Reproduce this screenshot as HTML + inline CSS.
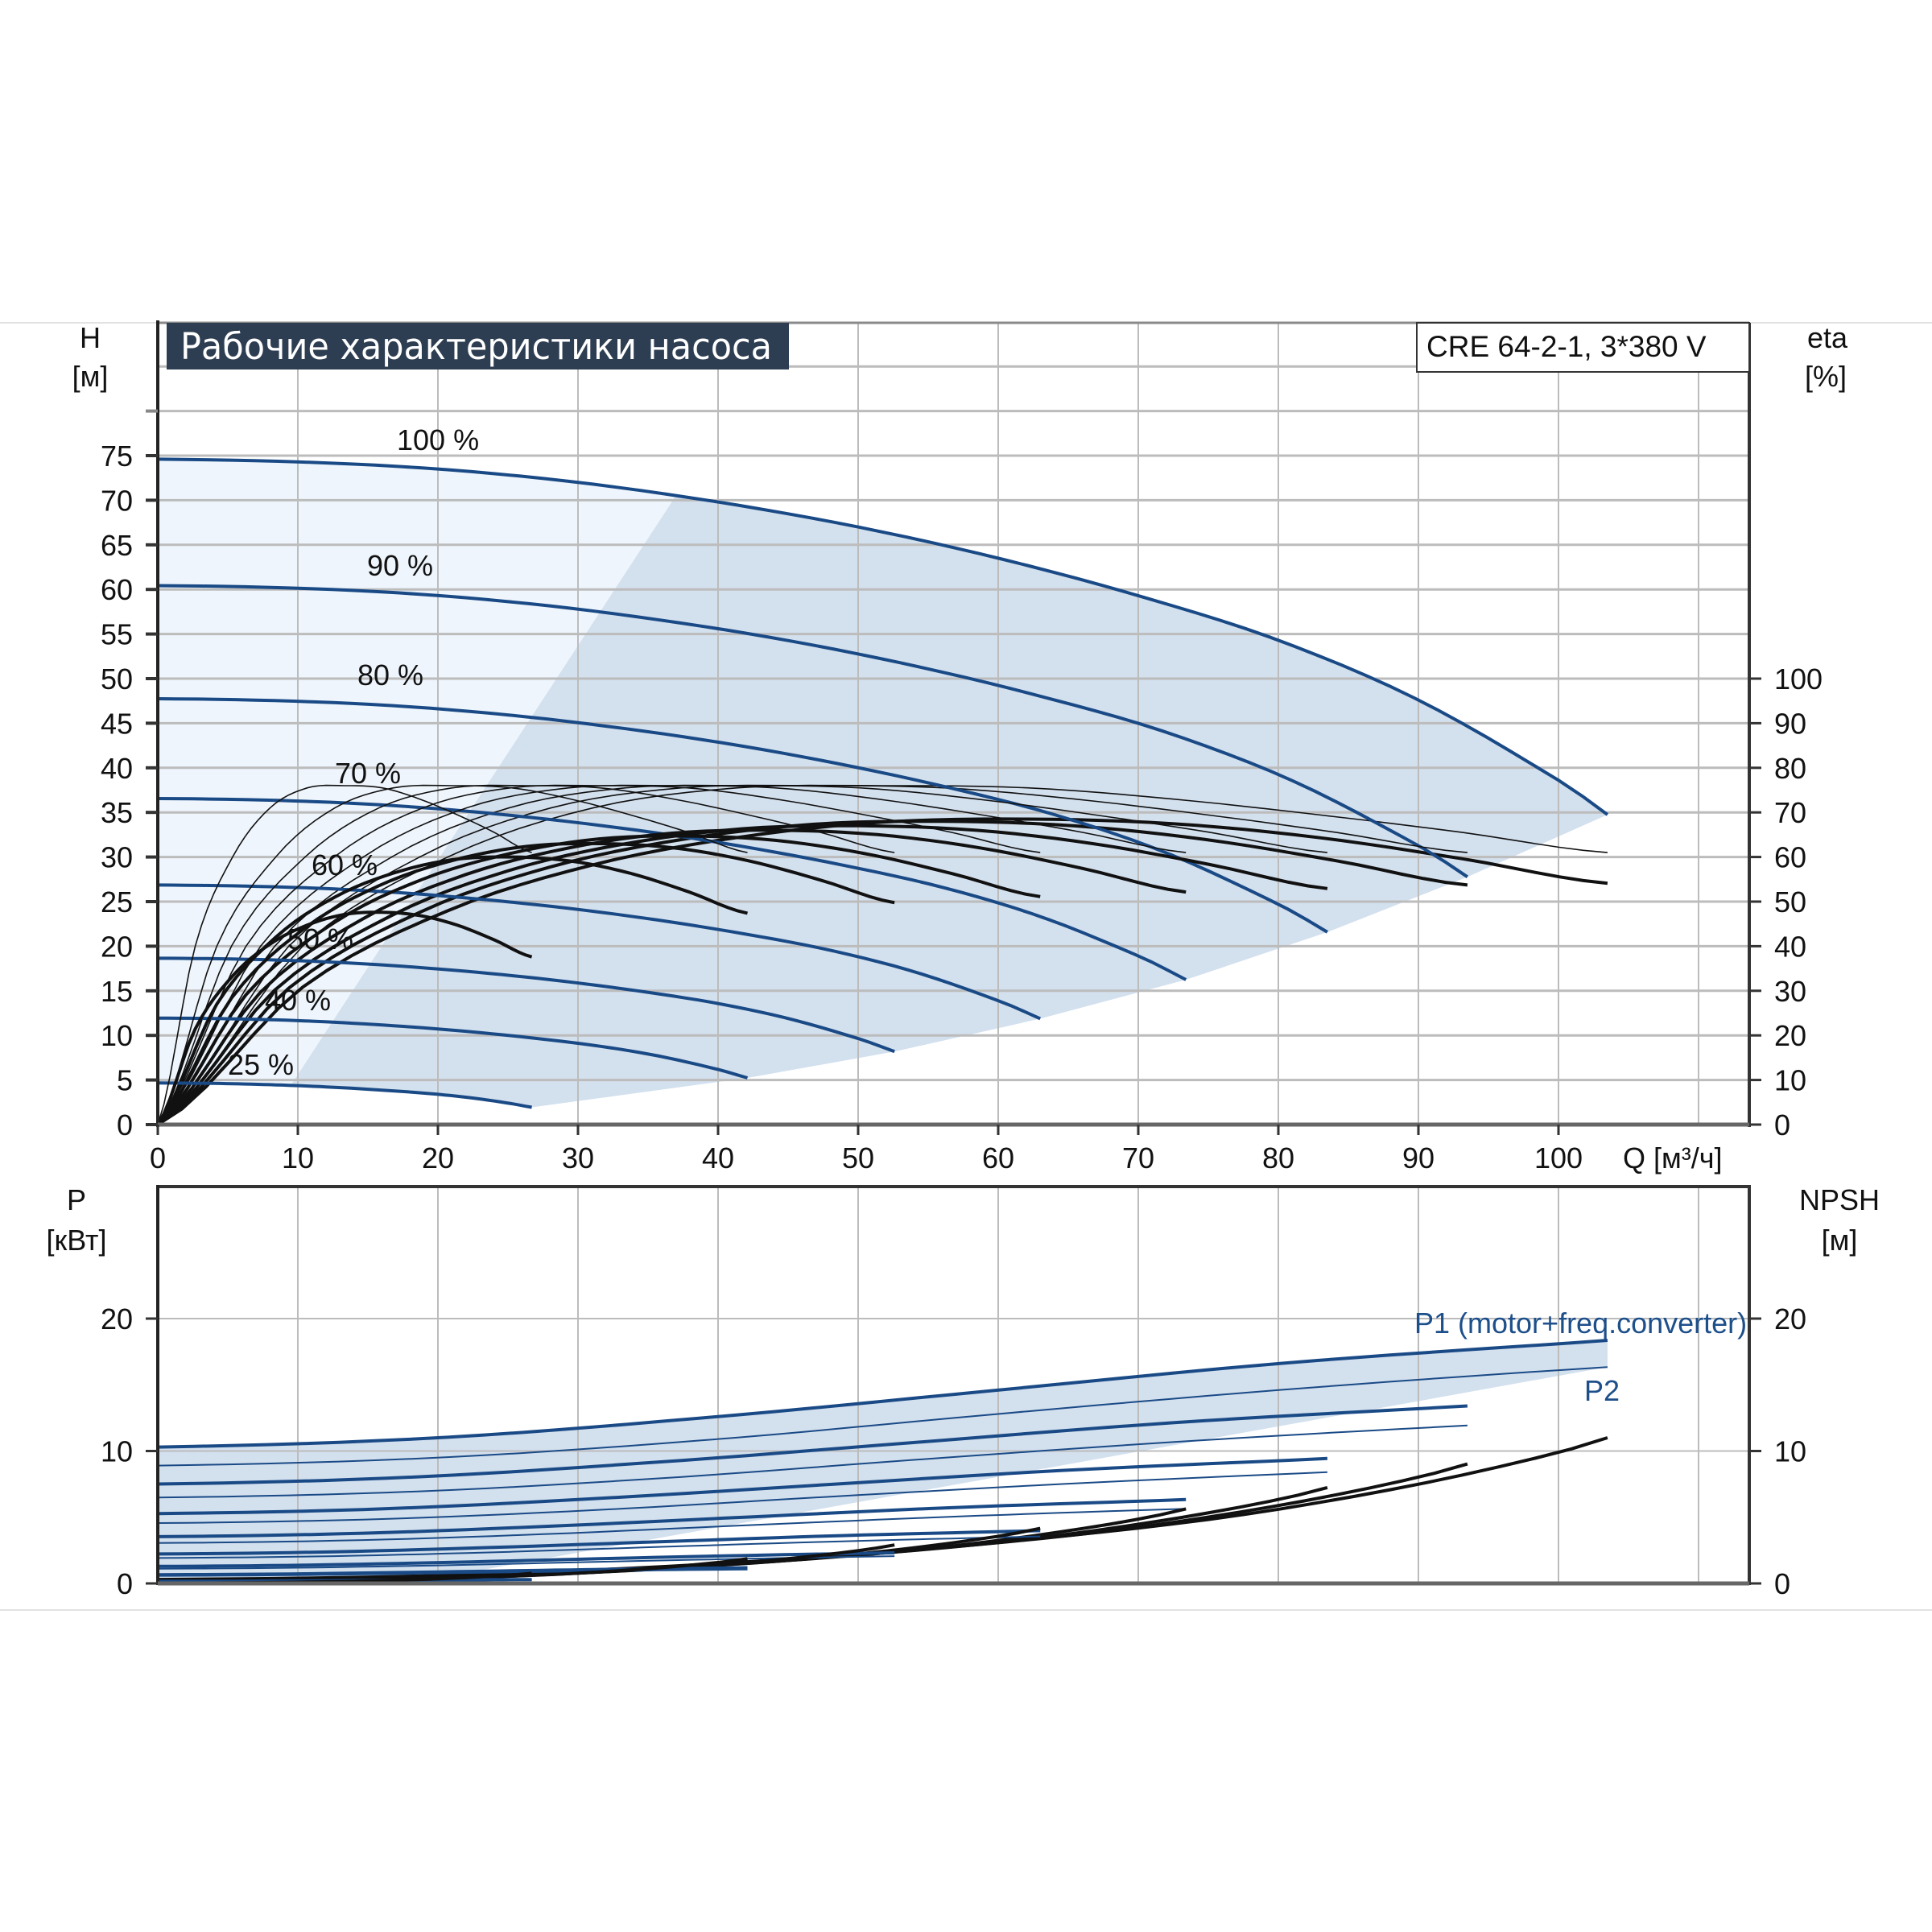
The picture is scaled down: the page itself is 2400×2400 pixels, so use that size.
<!DOCTYPE html>
<html><head><meta charset="utf-8">
<style>
html,body{margin:0;padding:0;background:#fff;}
svg{display:block;}
text{font-family:"Liberation Sans","DejaVu Sans",sans-serif;}
</style></head>
<body>
<svg id="chart" width="2400" height="2400" viewBox="0 0 2400 2400" xmlns="http://www.w3.org/2000/svg">
<line x1="0" y1="401" x2="2400" y2="401" stroke="#e2e2e2" stroke-width="2"/>
<line x1="0" y1="2000" x2="2400" y2="2000" stroke="#e2e2e2" stroke-width="2"/>
<g id="shades"></g>
<g id="grid"></g>
<g id="curves"></g>
<g id="axes"></g>
<g id="labels"></g>
<rect x="207" y="401" width="773" height="58" fill="#2e3e52"/>
<text x="224" y="446" fill="#fff" font-size="45" style="font-family:'DejaVu Sans Condensed','DejaVu Sans',sans-serif" textLength="735" lengthAdjust="spacingAndGlyphs">Рабочие характеристики насоса</text>
<rect x="1760" y="401" width="413" height="61" fill="#fff" stroke="#333" stroke-width="2"/>
<text x="1772" y="443" font-size="37" fill="#111">CRE 64-2-1, 3*380 V</text>
</svg>
<script>
// ---- data ----
const speeds = [1, 0.9, 0.8, 0.7, 0.6, 0.5, 0.4, 0.25];
const speedLabels = ["100 %", "90 %", "80 %", "70 %", "60 %", "50 %", "40 %", "25 %"];
const qEnd = [103.5, 93.5, 83.5, 73.4, 63, 52.6, 42.1, 26.7];
const baseQ = [0, 10, 20, 30, 40, 50, 60, 70, 80, 90, 100, 110];
const baseH = [74.6, 74.3, 73.5, 72.0, 69.8, 67.0, 63.5, 59.3, 54.3, 47.6, 38.6, 28.5];
const effR = [0, 0.1, 0.2, 0.3, 0.4, 0.5, 0.6, 0.7, 0.8, 0.9, 1.0];
const effPump = [0, 40, 60, 71, 75.5, 76, 75.5, 73, 69.5, 65.5, 61];
const effTotalShape = [0, 0.45, 0.70, 0.85, 0.94, 0.99, 1.0, 0.985, 0.94, 0.87, 0.79];
const effTotalPeak = [68.5, 68, 67, 66, 64.7, 63, 60, 47.6];
const powQ = [0, 20, 40, 60, 80, 100, 120];
const p1Base = [10.3, 11.0, 12.6, 14.6, 16.6, 18.1, 19.4];
const p2Base = [8.9, 9.5, 10.9, 12.8, 14.6, 16.1, 17.3];
const npshBase = [0.3, 0.6, 1.5, 3.1, 5.6, 9.9, 16.5];
const hTicks = [0,5,10,15,20,25,30,35,40,45,50,55,60,65,70,75];
const etaTicks = [0,10,20,30,40,50,60,70,80,90,100];
const qTicks = [0,10,20,30,40,50,60,70,80,90,100];
const pTicks = [0,10,20];
const npshTicks = [0,10,20];

// ---- axes functions ----
const X = q => 196 + q * 17.40;
const Yh = h => 1397 - h * 11.08;
const Ye = e => 1397 - e * 5.54;
const Yp = p => 1967 - p * 16.45;
const NS = "http://www.w3.org/2000/svg";
function mk(tag, parent, attrs) {
  const el = document.createElementNS(NS, tag);
  for (const k in attrs) el.setAttribute(k, attrs[k]);
  parent.appendChild(el); return el;
}
function interp(xs, ys, x) {
  let i = 0;
  if (x <= xs[0]) i = 0; else if (x >= xs[xs.length-1]) i = xs.length - 2;
  else while (xs[i+1] < x) i++;
  const t = (x - xs[i]) / (xs[i+1] - xs[i]);
  const y0 = ys[Math.max(i-1,0)], y1 = ys[i], y2 = ys[i+1], y3 = ys[Math.min(i+2, ys.length-1)];
  if (t < 0 || t > 1) return y1 + (y2 - y1) * t;
  return y1 + 0.5*t*(y2 - y0 + t*(2*y0 - 5*y1 + 4*y2 - y3 + t*(3*(y1 - y2) + y3 - y0)));
}
function pathFrom(fn, q0, q1, n) {
  let d = "";
  for (let i = 0; i <= n; i++) {
    const q = q0 + (q1 - q0) * i / n;
    const p = fn(q);
    d += (i ? "L" : "M") + p[0].toFixed(1) + " " + p[1].toFixed(1);
  }
  return d;
}
const H = (s, q) => s * s * interp(baseQ, baseH, q / s);
const P1 = (s, q) => s * s * s * interp(powQ, p1Base, q / s);
const P2 = (s, q) => s * s * s * interp(powQ, p2Base, q / s);
const NP = (s, q) => s * s * interp(powQ, npshBase, q / s);

const shades = document.getElementById("shades");
const grid = document.getElementById("grid");
const curves = document.getElementById("curves");
const axes = document.getElementById("axes");
const labels = document.getElementById("labels");

// ---- shaded regions (top) ----
let dLight = pathFrom(q => [X(q), Yh(H(1, q))], 0, qEnd[0], 60);
for (let i = 1; i < speeds.length; i++) dLight += "L" + X(qEnd[i]) + " " + Yh(H(speeds[i], qEnd[i]));
dLight += pathFrom(q => [X(q), Yh(H(0.25, q))], qEnd[7], 0, 20).replace("M", "L") + "Z";
const light = mk("path", shades, {d: dLight, fill: "#eef5fc"});


const qa = 37, qb = 9.5;
let dDark = "M" + X(qa) + " " + Yh(H(1, qa));
dDark += pathFrom(q => [X(q), Yh(H(1, q))], qa, qEnd[0], 40).replace("M", "L");
for (let i = 1; i < speeds.length; i++) dDark += "L" + X(qEnd[i]) + " " + Yh(H(speeds[i], qEnd[i]));
dDark += pathFrom(q => [X(q), Yh(H(0.25, q))], qEnd[7], qb, 10).replace("M", "L") + "Z";
const dark = mk("path", shades, {d: dDark, fill: "#d3e0ee"});



// ---- shaded region (bottom) ----
let dP = "M" + X(0) + " " + Yp(0) + pathFrom(q => [X(q), Yp(P1(1, q))], 0, qEnd[0], 40).replace("M", "L");
dP += "L" + X(qEnd[0]) + " " + Yp(P2(1, qEnd[0])) + "L" + X(17.8) + " " + Yp(0) + "Z";
const pShade = mk("path", shades, {d: dP, fill: "#d3e0ee"});



// ---- grid ----
for (let q = 10; q <= 110; q += 10) {
  const l1 = mk("line", grid, {x1: X(q), y1: 401, x2: X(q), y2: 1397, stroke: "#bcbcbc", "stroke-width": 2});
  
  
  const l2 = mk("line", grid, {x1: X(q), y1: 1474, x2: X(q), y2: 1967, stroke: "#bcbcbc", "stroke-width": 2});
  
  
}
for (let h = 5; h <= 85; h += 5) {
  const l = mk("line", grid, {x1: 196, y1: Yh(h), x2: 2173, y2: Yh(h), stroke: "#bcbcbc", "stroke-width": 3});
  
  
}
[10, 20].forEach(p => {
  const l = mk("line", grid, {x1: 196, y1: Yp(p), x2: 2173, y2: Yp(p), stroke: "#bcbcbc", "stroke-width": 2});
  
  
});

// ---- curves ----
speeds.forEach((s, i) => {
  const qe = qEnd[i];
  const h = mk("path", curves, {d: pathFrom(q => [X(q), Yh(H(s, q))], 0, qe, 60), fill: "none", stroke: "#1a4a86", "stroke-width": 4});
  
  
  const e1 = mk("path", curves, {d: pathFrom(q => [X(q), Ye(interp(effR, effPump, q / qe))], 0, qe, 60), fill: "none", stroke: "#111", "stroke-width": 1.6});
  
  
  const e2 = mk("path", curves, {d: pathFrom(q => [X(q), Ye(effTotalPeak[i] * interp(effR, effTotalShape, q / qe))], 0, qe, 60), fill: "none", stroke: "#111", "stroke-width": 4});
  
  
  const p1 = mk("path", curves, {d: pathFrom(q => [X(q), Yp(P1(s, q))], 0, qe, 40), fill: "none", stroke: "#1a4a86", "stroke-width": 4});
  
  
  const p2 = mk("path", curves, {d: pathFrom(q => [X(q), Yp(P2(s, q))], 0, qe, 40), fill: "none", stroke: "#1a4a86", "stroke-width": 2});
  
  
  const np = mk("path", curves, {d: pathFrom(q => [X(q), Yp(NP(s, q))], 0, qe, 40), fill: "none", stroke: "#111", "stroke-width": 4});
  
  
});

// ---- axes frames ----
function line(parent, x1, y1, x2, y2, c, w, name) {
  const l = mk("line", parent, {x1, y1, x2, y2, stroke: c, "stroke-width": w});
  
  
}
line(axes, 196, 401, 2173, 401, "#8a8a8a", 3, "top-frame");
line(axes, 196, 398, 196, 1400, "#222", 4, "h-axis");
line(axes, 2173, 401, 2173, 1400, "#333", 4, "eta-axis");
line(axes, 196, 1397, 2173, 1397, "#666", 5, "q-axis");
line(axes, 196, 1474, 2173, 1474, "#333", 4, "power-top-frame");
line(axes, 196, 1472, 196, 1969, "#222", 4, "p-axis");
line(axes, 2173, 1472, 2173, 1969, "#333", 4, "npsh-axis");
line(axes, 196, 1967, 2173, 1967, "#666", 5, "power-q-axis");

function txt(parent, x, y, s, size, anchor, fill, name) {
  const t = mk("text", parent, {x, y, "font-size": size, "text-anchor": anchor, fill});
  t.textContent = s;
  
  
  return t;
}
hTicks.forEach(h => {
  line(axes, 181, Yh(h), 196, Yh(h), "#333", 4, "h-tick");
  txt(labels, 165, Yh(h) + 13, String(h), 36, "end", "#111", "h-tick-label");
});
line(axes, 181, Yh(80), 196, Yh(80), "#888", 4, "h-tick");
etaTicks.forEach(e => {
  line(axes, 2173, Ye(e), 2188, Ye(e), "#333", 3, "eta-tick");
  txt(labels, 2204, Ye(e) + 13, String(e), 36, "start", "#111", "eta-tick-label");
});
qTicks.forEach(q => {
  line(axes, X(q), 1397, X(q), 1410, "#333", 3, "q-tick");
  txt(labels, X(q), 1451, String(q), 36, "middle", "#111", "q-tick-label");
});
pTicks.forEach(p => {
  line(axes, 181, Yp(p), 196, Yp(p), "#333", 3, "p-tick");
  txt(labels, 165, Yp(p) + 13, String(p), 36, "end", "#111", "p-tick-label");
});
npshTicks.forEach(p => {
  line(axes, 2173, Yp(p), 2188, Yp(p), "#333", 3, "npsh-tick");
  txt(labels, 2204, Yp(p) + 13, String(p), 36, "start", "#111", "npsh-tick-label");
});

// axis titles
txt(labels, 112, 432, "H", 36, "middle", "#111", "h-axis-title");
txt(labels, 112, 480, "[м]", 36, "middle", "#111", "h-axis-unit");
txt(labels, 2270, 432, "eta", 36, "middle", "#111", "eta-axis-title");
txt(labels, 2268, 480, "[%]", 36, "middle", "#111", "eta-axis-unit");
txt(labels, 2016, 1451, "Q [м³/ч]", 36, "start", "#111", "q-axis-title");
txt(labels, 95, 1503, "P", 36, "middle", "#111", "p-axis-title");
txt(labels, 95, 1553, "[кВт]", 36, "middle", "#111", "p-axis-unit");
txt(labels, 2285, 1503, "NPSH", 36, "middle", "#111", "npsh-axis-title");
txt(labels, 2285, 1553, "[м]", 36, "middle", "#111", "npsh-axis-unit");
txt(labels, 1757, 1656, "P1 (motor+freq.converter)", 36, "start", "#1d4f8a", "p1-label");
txt(labels, 1968, 1740, "P2", 36, "start", "#1d4f8a", "p2-label");

// speed labels
const labelPos = [[493,559],[456,715],[444,851],[416,973],[387,1087],[357,1179],[329,1255],[283,1335]];
speedLabels.forEach((s, i) => {
  txt(labels, labelPos[i][0], labelPos[i][1], s, 36, "start", "#111", "speed-label");
});
</script>
</body></html>
